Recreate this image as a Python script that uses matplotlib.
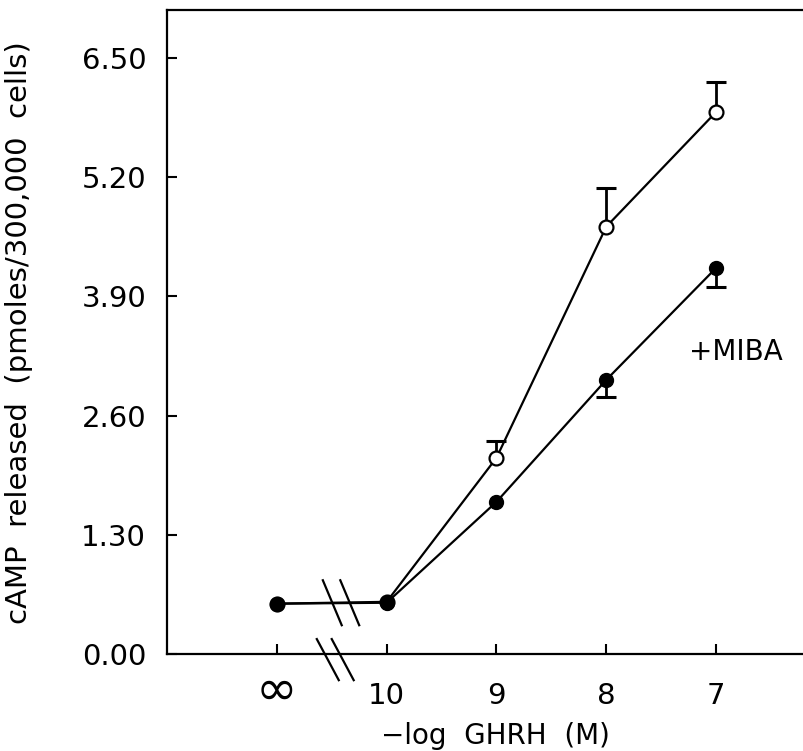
import numpy as np
import matplotlib
matplotlib.use("Agg")
import matplotlib.pyplot as plt
import matplotlib.transforms as mtransforms

# -log GHRH (M); "infinity" (no GHRH) is drawn one decade past 10
dose_pos = [11, 10, 9, 8, 7]
dose_labels = ["\u221e", "10", "9", "8", "7"]

# cAMP released (pmoles/300,000 cells)
camp_open = [0.55, 0.57, 2.14, 4.66, 5.91]
err_open = [0.0, 0.0, 0.18, 0.42, 0.33]
camp_mbia = [0.55, 0.56, 1.66, 2.99, 4.21]
err_mbia = [0.0, 0.0, 0.0, 0.19, 0.21]

yticks = [0.0, 1.3, 2.6, 3.9, 5.2, 6.5]

fig = plt.figure(figsize=(8.04, 7.51), dpi=100)
ax = fig.add_axes([0.2077, 0.129, 0.7923, 0.8575])

lw = 1.6
x = np.array(dose_pos)


def one_sided_err(ax, x, y, err, sign):
    # stem from the point up (sign=1) or down (sign=-1), cap at the far end only
    x, y, err = np.asarray(x), np.asarray(y), np.asarray(err)
    m = err > 0
    end = y[m] + sign * err[m]
    ax.vlines(x[m], y[m], end, color='black', lw=2, zorder=2)
    ax.plot(x[m], end, ls='none', marker='_', ms=14, mew=2.2, color='black', zorder=2)


# open circles, upper error only
ax.plot(x, camp_open, '-o', color='black', mfc='white', mec='black', ms=10,
        mew=1.6, lw=lw, zorder=3)
one_sided_err(ax, x, camp_open, err_open, 1)

# filled circles (+MIBA), lower error only
ax.plot(x, camp_mbia, '-o', color='black', mfc='black', mec='black', ms=10,
        lw=lw, zorder=4)
one_sided_err(ax, x, camp_mbia, err_mbia, -1)

ax.text(7.25, 3.29, "+MIBA", fontsize=20, va='center', ha='left')

# axis break marks
ys = 0.245
for xc in [10.495, 10.336]:
    ax.plot([xc + 0.086, xc - 0.086], [0.56 + ys, 0.56 - ys], color='black', lw=1.6,
            clip_on=False, zorder=5)
for xc in [10.536, 10.4]:
    ax.plot([xc + 0.1, xc - 0.1], [-0.06 + 0.224, -0.06 - 0.224], color='black', lw=1.6,
            clip_on=False, zorder=5)

ax.set_xlim(12, 6.2)
ax.set_ylim(0, 7.02)
ax.set_xticks(dose_pos)
# the infinity sign is drawn larger, as its own text
ax.set_xticklabels([""] + dose_labels[1:])
trans = mtransforms.blended_transform_factory(ax.transData, ax.transAxes)
ax.text(dose_pos[0], -0.057, dose_labels[0], transform=trans, fontsize=36,
        ha='center', va='center')
ax.set_yticks(yticks)
ax.set_yticklabels(["%.2f" % v for v in yticks])
ax.tick_params(direction='in', length=7, width=1.5, labelsize=21)
ax.tick_params(axis='x', pad=20)
ax.tick_params(axis='y', pad=15)
ax.spines['right'].set_visible(False)
for s in ['left', 'top', 'bottom']:
    ax.spines[s].set_linewidth(1.6)

ax.set_xlabel("\u2212log  GHRH  (M)", fontsize=20)
ax.xaxis.set_label_coords(0.515, -0.105)
ax.set_ylabel("cAMP  released  (pmoles/300,000  cells)", fontsize=21)
ax.yaxis.set_label_coords(-0.21, 0.5)

fig.savefig("out.png", dpi=100)
